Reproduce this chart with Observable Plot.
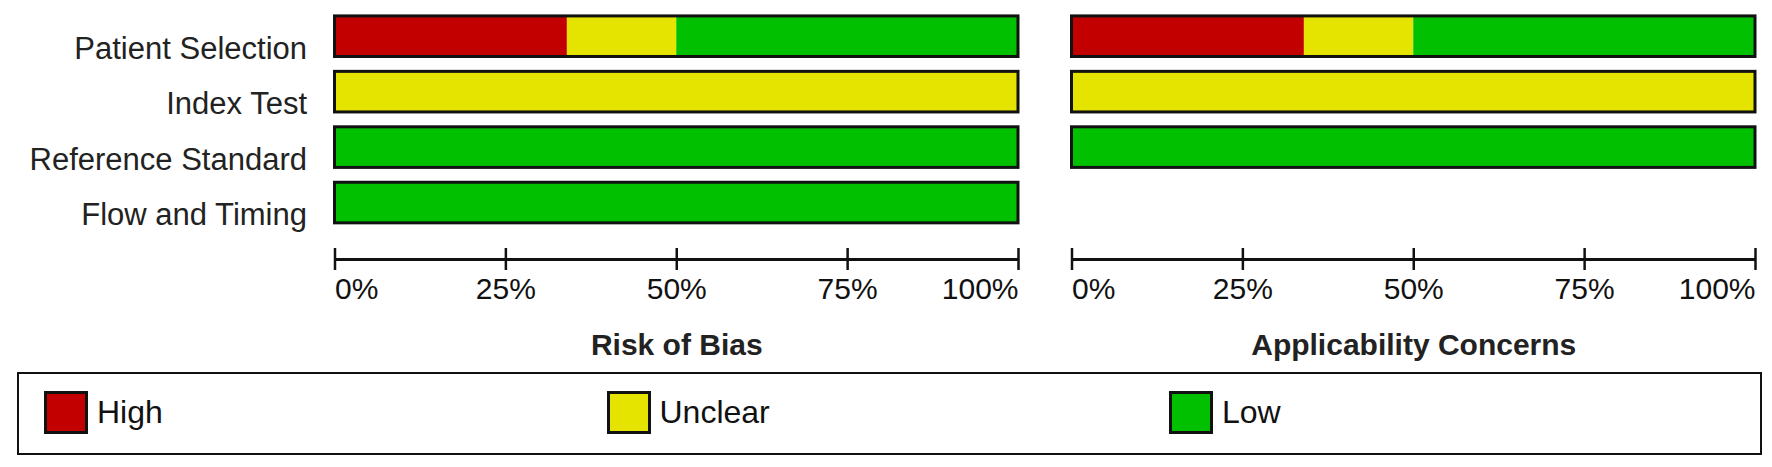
<!DOCTYPE html>
<html>
<head>
<meta charset="utf-8">
<script src="https://cdn.jsdelivr.net/npm/d3@7"></script>
<script src="https://cdn.jsdelivr.net/npm/@observablehq/plot@0.6"></script>
<style>
  html, body { margin: 0; padding: 0; background: #ffffff; }
  body { width: 1772px; height: 467px; position: relative; overflow: hidden;
         font-family: "Liberation Sans", Arial, sans-serif; color: #000; }
  .panel { position: absolute; top: 0; }
  #legend { position: absolute; left: 17px; top: 372px; width: 1741px; height: 79px;
            border: 2px solid #111; box-sizing: content-box; }
  .item { position: absolute; top: 17px; display: flex; align-items: center; }
  .sw { width: 38px; height: 37px; border: 3px solid #111; }
  .lab { margin-left: 9px; font-size: 32px; line-height: 43px; color: #111; }
</style>
</head>
<body>
<div id="left" class="panel" style="left:0px"></div>
<div id="right" class="panel" style="left:1040px"></div>
<div id="legend"></div>
<script>
// ---- data ----
const categories = ["Patient Selection", "Index Test", "Reference Standard", "Flow and Timing"];
const applicabilityCategories = ["Patient Selection", "Index Test", "Reference Standard"];
const judgements = ["High", "Unclear", "Low"];
const colors = ["#c20000", "#e5e400", "#00c000"];
// Risk of Bias (% of studies)
const riskHigh    = [34, 0, 0, 0];
const riskUnclear = [16, 100, 0, 0];
const riskLow     = [50, 0, 100, 100];
// Applicability Concerns (% of studies)
const appHigh     = [34, 0, 0];
const appUnclear  = [16, 100, 0];
const appLow      = [50, 0, 100];
const xTicks = [0, 25, 50, 75, 100];
const tickLabels = ["0%", "25%", "50%", "75%", "100%"];
const panelTitles = ["Risk of Bias", "Applicability Concerns"];

function segments(cats, high, unclear, low) {
  const out = [];
  cats.forEach((c, i) => {
    let acc = 0;
    [high[i], unclear[i], low[i]].forEach((v, j) => {
      if (v > 0) out.push({row: i, category: c, judgement: judgements[j], x1: acc, x2: acc + v});
      acc += v;
    });
  });
  return out;
}

const half = 0.366;      // half bar thickness in row units
const axisRow = 4.02;    // axis line position (row units)
const fontFamily = '"Liberation Sans", Arial, sans-serif';

function panel(cats, segs, title, {width, marginLeft, marginRight, showLabels}) {
  const rows = cats.map((c, i) => ({row: i, category: c}));
  const marks = [
    Plot.rect(segs, {x1: "x1", x2: "x2", y1: d => d.row - half, y2: d => d.row + half, fill: "judgement"}),
    Plot.rect(rows, {x1: () => 0, x2: () => 100, y1: d => d.row - half, y2: d => d.row + half,
                     fill: "none", stroke: "#111", strokeWidth: 3}),
    Plot.ruleY([axisRow], {x1: () => 0, x2: () => 100, stroke: "#111", strokeWidth: 3}),
    Plot.ruleX(xTicks, {x: d => d, y1: () => 3.82, y2: () => 4.216, stroke: "#111", strokeWidth: 2.5}),
    Plot.text(xTicks.slice(0, 1), {x: d => d, y: () => 4.55, text: () => tickLabels[0],
              textAnchor: "start", fontSize: 30, fill: "#111"}),
    Plot.text(xTicks.slice(1, -1), {x: d => d, y: () => 4.55, text: (d, i) => tickLabels[i + 1],
              textAnchor: "middle", fontSize: 30, fill: "#111"}),
    Plot.text(xTicks.slice(-1), {x: d => d, y: () => 4.55, text: () => tickLabels[tickLabels.length - 1],
              textAnchor: "end", fontSize: 30, fill: "#111"}),
    Plot.text([title], {x: () => 50, y: () => 5.56, text: d => d, fontSize: 30, fontWeight: "bold",
              textAnchor: "middle", fill: "#222"})
  ];
  if (showLabels) {
    marks.push(Plot.text(rows, {x: () => 0, y: "row", text: "category", dx: -28, dy: 12,
                                textAnchor: "end", fontSize: 31, fill: "#222"}));
  }
  return Plot.plot({
    width, height: 365,
    marginLeft, marginRight, marginTop: 0, marginBottom: 0,
    x: {domain: [0, 100], axis: null},
    y: {type: "linear", domain: [0, 3], range: [36.2, 202.55], axis: null},
    color: {domain: judgements, range: colors},
    style: {fontFamily, background: "transparent", color: "#000", overflow: "visible"},
    marks
  });
}

document.getElementById("left").appendChild(
  panel(categories, segments(categories, riskHigh, riskUnclear, riskLow), panelTitles[0],
        {width: 1040, marginLeft: 334.5, marginRight: 22, showLabels: true}));
document.getElementById("right").appendChild(
  panel(applicabilityCategories, segments(applicabilityCategories, appHigh, appUnclear, appLow), panelTitles[1],
        {width: 732, marginLeft: 31.5, marginRight: 17, showLabels: false}));

// legend
const legend = document.getElementById("legend");
judgements.forEach((j, i) => {
  const item = document.createElement("div");
  item.className = "item";
  item.style.left = (25 + i * 562.5) + "px";
  const sw = document.createElement("div");
  sw.className = "sw";
  sw.style.background = colors[i];
  const lab = document.createElement("span");
  lab.className = "lab";
  lab.textContent = j;
  item.appendChild(sw);
  item.appendChild(lab);
  legend.appendChild(item);
});
</script>
</body>
</html>
